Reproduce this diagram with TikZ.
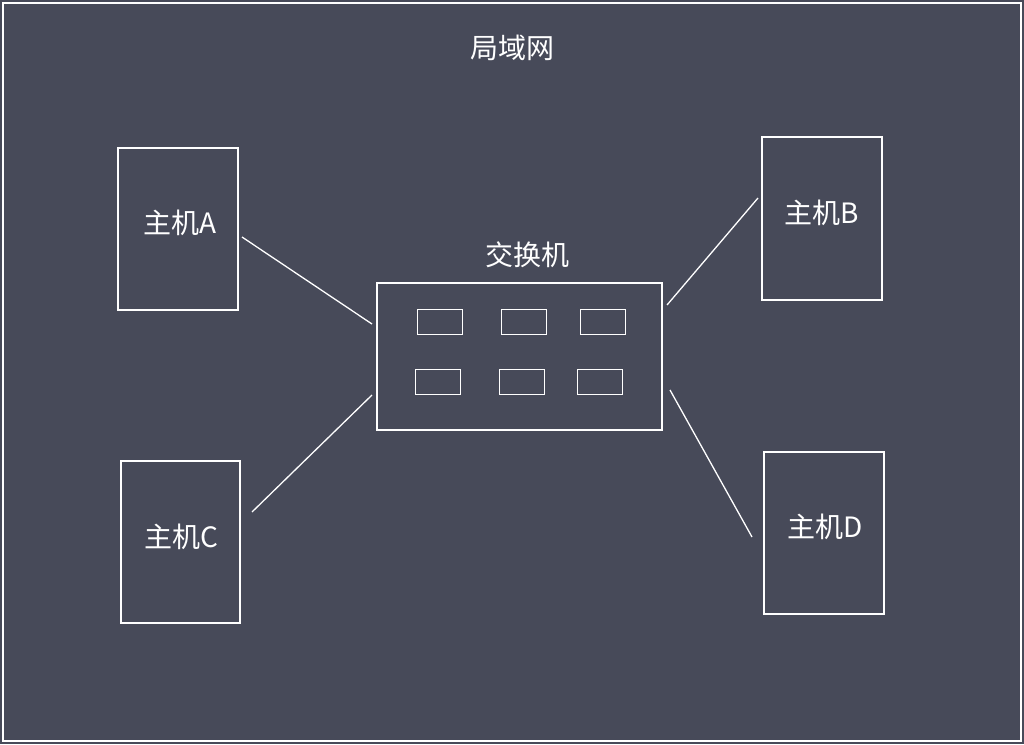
\documentclass[tikz,border=0pt]{standalone}
\usepackage{fontspec}
\setmainfont{Noto Sans CJK SC}
\definecolor{bg}{HTML}{474A59}
\begin{document}
\begin{tikzpicture}[x=1pt,y=-1pt,
  box/.style={draw=white,line width=1.3pt},
  lbl/.style={text=white,font=\fontsize{28}{30}\selectfont},
  wire/.style={draw=white,line width=1.3pt}]
\fill[bg] (0,0) rectangle (1024,744);
\useasboundingbox (0,0) rectangle (1024,744);
\draw[box] (3,3) rectangle (1021,741);
\node[lbl] (title) at (512,48) {局域网};
\node[box,minimum width=120pt,minimum height=162pt] (A) at (178,229) {};
\node[lbl] (la) at (180,223) {主机A};
\node[box,minimum width=120pt,minimum height=163pt] (B) at (822,218.5) {};
\node[lbl] (lb) at (822,213) {主机B};
\node[box,minimum width=119pt,minimum height=162pt] (C) at (180.5,542) {};
\node[lbl] (lc) at (181,537) {主机C};
\node[box,minimum width=120pt,minimum height=162pt] (D) at (824,533) {};
\node[lbl] (ld) at (825,527) {主机D};
\node[box,minimum width=285pt,minimum height=147pt] (S) at (519.5,356.5) {};
\node[lbl] (ls) at (527,255) {交换机};
\foreach \x/\n in {440/p1,524/p2,603/p3}
  \node[box,minimum width=45pt,minimum height=25pt] (\n) at (\x,322) {};
\foreach \x/\n in {438/q1,522/q2,600/q3}
  \node[box,minimum width=45pt,minimum height=25pt] (\n) at (\x,382) {};
\coordinate (a1) at (242,237); \coordinate (a2) at (372,324);
\coordinate (c1) at (252,512); \coordinate (c2) at (372,395);
\coordinate (b1) at (758,198); \coordinate (b2) at (667,305);
\coordinate (d1) at (752,537); \coordinate (d2) at (670,390);
\draw[wire] (a1) -- (a2);
\draw[wire] (c1) -- (c2);
\draw[wire] (b1) -- (b2);
\draw[wire] (d1) -- (d2);
\end{tikzpicture}
\end{document}
